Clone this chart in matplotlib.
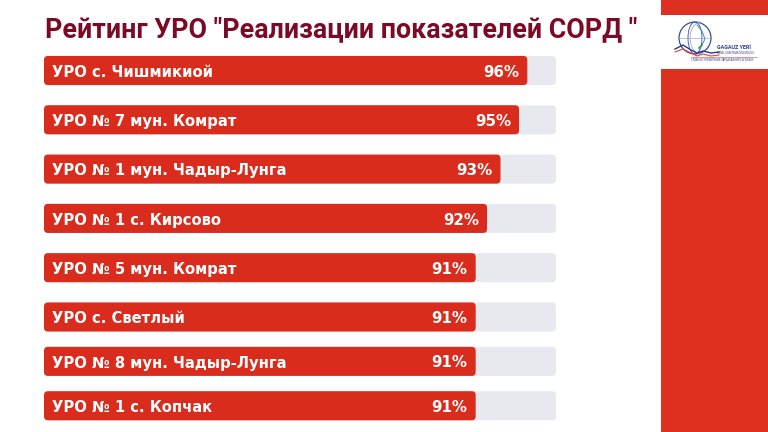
import numpy as np
import matplotlib.pyplot as plt
from matplotlib import font_manager as fm
from matplotlib.patches import FancyBboxPatch, Rectangle, Circle, Arc

# data
names = [
    'УРО с. Чишмикиой',
    'УРО № 7 мун. Комрат',
    'УРО № 1 мун. Чадыр-Лунга',
    'УРО № 1 с. Кирсово',
    'УРО № 5 мун. Комрат',
    'УРО с. Светлый',
    'УРО № 8 мун. Чадыр-Лунга',
    'УРО № 1 с. Копчак',
]
values = [96.0, 95.2, 93.4, 92.1, 91.0, 91.0, 91.0, 91.0]
title = 'Рейтинг УРО "Реализации показателей СОРД "'

# layout
row_y = [0, 1, 2, 3, 4, 5, 5.9, 6.8]
bar_h = 0.59
x_min, x_max = 49.17, 98.78

bar_red = '#DA2C1D'
track_grey = '#E8E9EE'
band_red = '#DF301F'
title_red = '#7B0A26'


def pick_font(family, weight):
    # plain (not condensed) face of the family, else fall back on the name
    for f in fm.fontManager.ttflist:
        fn = f.fname.lower()
        if (f.name == family and f.weight == weight and f.style == 'normal'
                and 'condensed' not in fn and 'narrow' not in fn
                and f.stretch == 'normal'):
            return fm.FontProperties(fname=f.fname)
    return fm.FontProperties(family=family, weight=weight)


title_font = pick_font('Roboto', 700)
title_font.set_size(19.3)
label_font = fm.FontProperties(family='DejaVu Sans', weight='bold', size=10.6)
pct_font = fm.FontProperties(family='DejaVu Sans', weight='bold', size=10.8)

fig = plt.figure(figsize=(7.68, 4.32), dpi=100)
fig.patch.set_facecolor('white')

# right red band
fig.patches.append(Rectangle((661 / 768, 0), 107 / 768, 1, transform=fig.transFigure,
                             facecolor=band_red, edgecolor='none', zorder=0))

fig.text(45 / 768, 1 - 37.3 / 432, title, fontproperties=title_font,
         color=title_red, va='baseline', ha='left')

ax = fig.add_axes([44 / 768, 1 - 430.4 / 432, 512 / 768, 384.55 / 432])
ax.set_xlim(x_min, x_max)
ax.set_ylim(7.3, -0.5)
ax.axis('off')

# rounded corners: 4 px
x_per_px = (x_max - x_min) / 512
y_per_px = 1 / 49.3
r = 4 * x_per_px
aspect = y_per_px / x_per_px

for name, v, y in zip(names, values, row_y):
    track = FancyBboxPatch((x_min, y - bar_h / 2), x_max - x_min, bar_h,
                           boxstyle=f'round,pad=0,rounding_size={r}',
                           mutation_aspect=aspect, facecolor=track_grey,
                           edgecolor='none', zorder=1)
    ax.add_patch(track)
    bar = FancyBboxPatch((x_min, y - bar_h / 2), v - x_min, bar_h,
                         boxstyle=f'round,pad=0,rounding_size={r}',
                         mutation_aspect=aspect, facecolor=bar_red,
                         edgecolor='none', zorder=2)
    ax.add_patch(bar)
    ax.annotate(name, (x_min, y), xytext=(5.5, -4.6), textcoords='offset points',
                ha='left', va='baseline', color='white', fontproperties=label_font,
                zorder=3)
    ax.annotate(f'{v:.0f}%', (v, y), xytext=(-5.8, -4.4), textcoords='offset points',
                ha='right', va='baseline', color='white', fontproperties=pct_font,
                zorder=3)

# logo box
lg = fig.add_axes([661 / 768, 1 - 69 / 432, 107 / 768, 54 / 432], zorder=5)
lg.set_xlim(0, 107)
lg.set_ylim(54, 0)
lg.set_facecolor('white')
lg.set_xticks([])
lg.set_yticks([])
for s in lg.spines.values():
    s.set_visible(False)
lg.add_patch(Circle((34, 23), 16, facecolor='none', edgecolor='#3A4A9A', lw=0.9))
lg.add_patch(Arc((34, 23), 14, 32, facecolor='none', edgecolor='#3A4A9A', lw=0.6))
lg.add_patch(Arc((40, 23), 22, 32, theta1=90, theta2=270, edgecolor='#8A96C8', lw=0.5))
lg.plot([18, 50], [23, 23], color='#8A96C8', lw=0.4)
lg.plot([36, 41, 44, 40, 38], [10, 16, 24, 32, 36], color='#3A8FD0', lw=0.7)
lg.plot([38, 41], [33, 30], color='#3CA34A', lw=1.2)
sx = [14, 22, 30, 36, 42, 50, 58]
lg.plot(sx, [34, 30, 35, 38, 36, 38, 37], color='#2B3990', lw=1.0)
lg.plot(sx, [37, 34, 38, 41, 39, 41, 40], color='#E04A2A', lw=0.8)
lg.text(56, 34, 'GAGAUZ YERİ', fontsize=3.9, fontweight='bold', color='#2B3990',
        family='Roboto', va='baseline')
lg.text(56, 38.5, 'GENEL ÜGRETMAK MUDURLUGU', fontsize=1.8, color='#2B3990',
        family='Roboto', va='baseline')
lg.plot([30, 96], [41.5, 41.5], color='#E04A2A', lw=0.4)
lg.text(30, 46, 'ГЛАВНОЕ УПРАВЛЕНИЕ ОБРАЗОВАНИЯ ГАГАУЗИИ', fontsize=1.9,
        color='#2B3990', family='Roboto', va='baseline')

fig.savefig('out.png', dpi=100, facecolor='white')
